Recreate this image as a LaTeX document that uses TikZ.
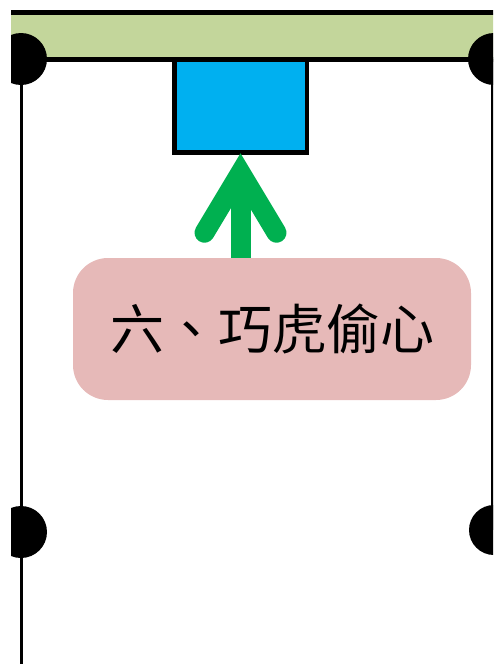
\documentclass[tikz,border=0pt]{standalone}
\usepackage{fontspec}
\newfontfamily\cjk{Noto Sans CJK TC}
\definecolor{barfill}{HTML}{C3D69B}
\definecolor{bluefill}{HTML}{00B0F0}
\definecolor{arrowgreen}{HTML}{00B050}
\definecolor{pinkfill}{HTML}{E6B9B8}
\begin{document}
\begin{tikzpicture}[x=1pt,y=-1pt,
  dot/.style={circle,fill=black,minimum size=52pt,inner sep=0pt},
  post/.style={line width=3.5pt,black},
  barline/.style={line width=4.5pt,black},
  bluebox/.style={draw=black,line width=4.5pt,fill=bluefill,minimum width=132.5pt,minimum height=93pt,inner sep=0pt},
  label/.style={fill=pinkfill,rounded corners=35pt,minimum width=398pt,minimum height=142pt,inner sep=0pt,font=\cjk\fontsize{54}{54}\selectfont},
  greenline/.style={line width=20pt,draw=arrowgreen}]
\useasboundingbox (0,0) rectangle (493,664);
\begin{scope}
\clip (11,0) rectangle (493,664);
\fill[barfill] (11,12.5) rectangle (500,59.5);
\draw[barline] (11,12.5) -- (500,12.5) (11,59.5) -- (500,59.5);
\coordinate (tl) at (21,59);
\coordinate (bl) at (21,532);
\coordinate (tr) at (494,59);
\coordinate (br) at (494,530);
\coordinate (lend) at (21,670);
\draw[post] ([xshift=0.5pt]tl) -- ([xshift=0.5pt]lend);
\draw[line width=3pt] ([xshift=-2pt]tr) -- ([xshift=-2pt]br);
\node[dot] (ctl) at (tl) {};
\node[dot] (cbl) at (bl) {};
\node[dot] (ctr) at (tr) {};
\node[dot,minimum size=50pt] (cbr) at (br) {};
\node[bluebox] (blue) at (240.5,106) {};
\node[label] (lbl) at (272,329) {六、巧虎偷心};
\draw[greenline] (lbl.north -| blue.south) -- ([yshift=-20pt]blue.south);
\draw[greenline,line join=miter,line cap=round]
  ([xshift=-36pt,yshift=-78pt]blue.south) -- ([yshift=-18pt]blue.south) -- ([xshift=36pt,yshift=-78pt]blue.south);
\end{scope}
\end{tikzpicture}
\end{document}
